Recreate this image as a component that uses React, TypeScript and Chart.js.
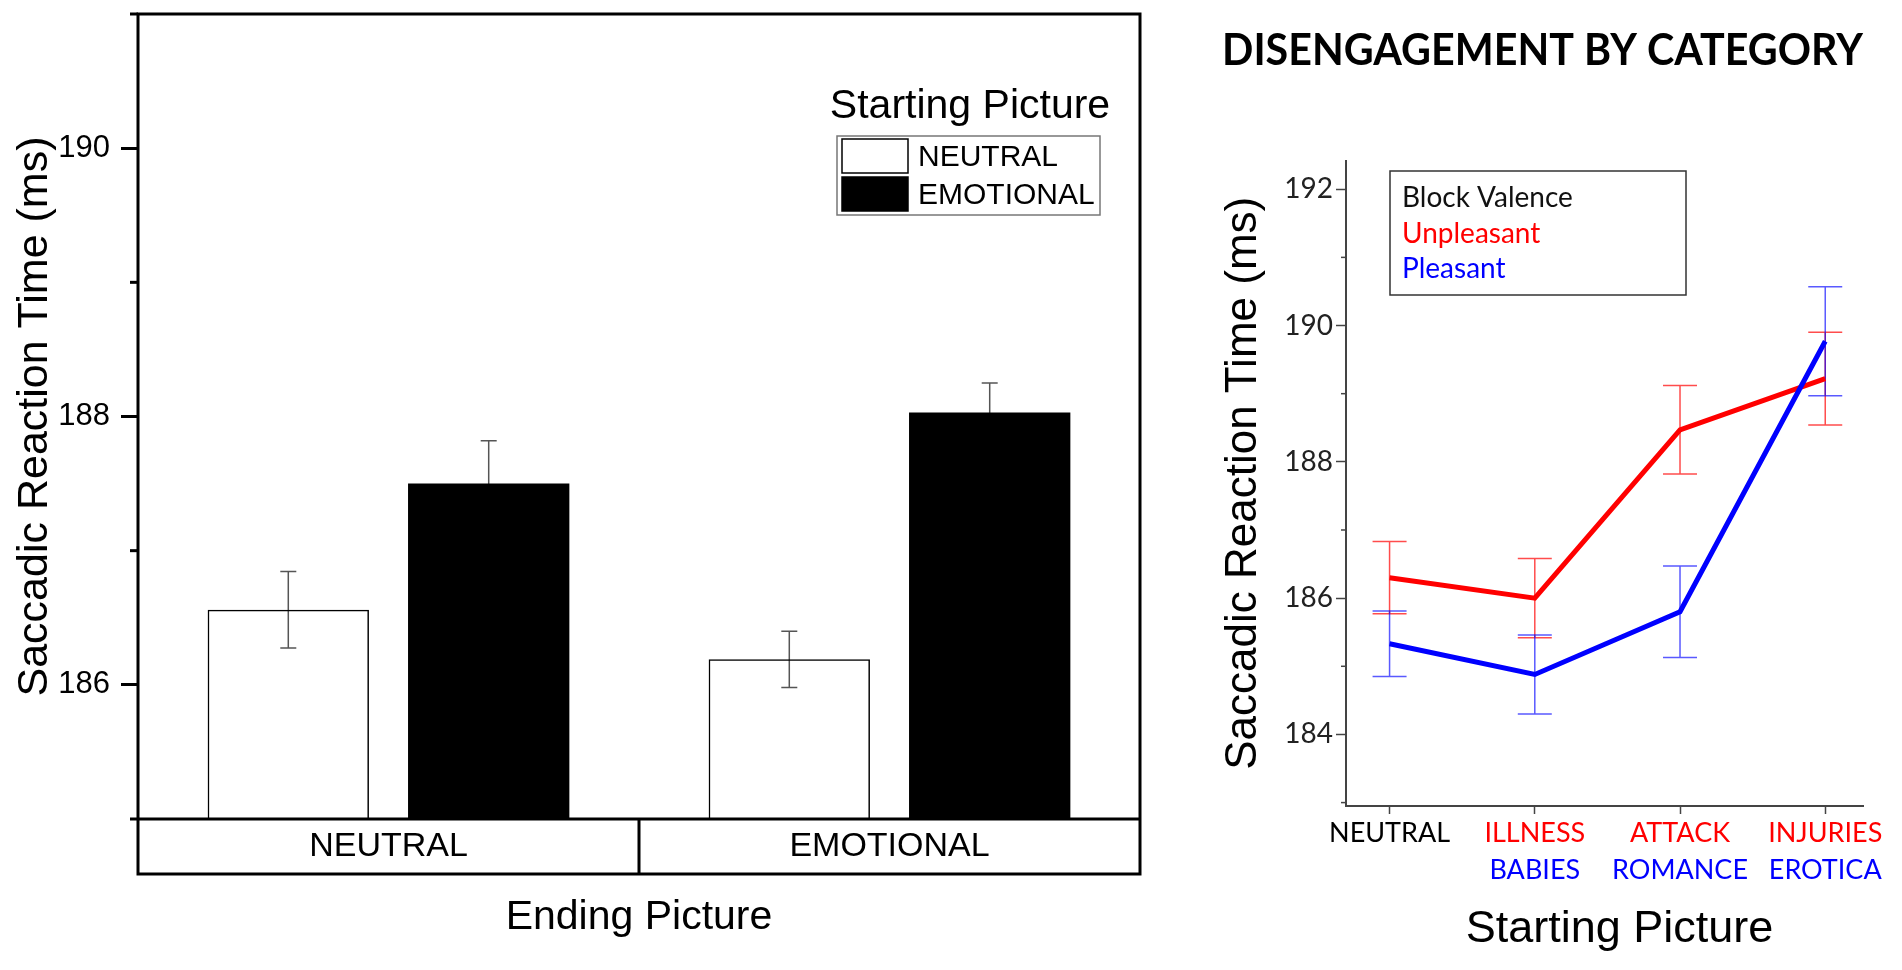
import { useEffect, useRef } from "react";
import { Chart, registerables } from "chart.js";

Chart.register(...registerables);
Chart.defaults.font.family = "'Liberation Sans', Arial, sans-serif";
Chart.defaults.color = "#000";

// left panel: ending picture x starting picture
const endingCategories = ["NEUTRAL", "EMOTIONAL"];
const neutralStartRT = [186.56, 186.19];
const neutralStartErr = [0.285, 0.21];
const emotionalStartRT = [187.5, 188.03];
const emotionalStartErr = [0.32, 0.22];
const barAxisTicks = [185, 186, 187, 188, 189, 190, 191];
const barMinorTicks = [185, 187, 189, 191];

// right panel: disengagement by category
const startingPositions = [0, 1, 2, 3];
const startingTopLabels = ["NEUTRAL", "ILLNESS", "ATTACK", "INJURIES"];
const startingBottomLabels = ["", "BABIES", "ROMANCE", "EROTICA"];
const unpleasantRT = [186.3, 186.0, 188.47, 189.22];
const unpleasantErr = [0.53, 0.58, 0.65, 0.68];
const pleasantRT = [185.33, 184.88, 185.8, 189.77];
const pleasantErr = [0.48, 0.58, 0.67, 0.8];
const lineAxisTicks = [183, 184, 185, 186, 187, 188, 189, 190, 191, 192];
const lineMinorTicks = [183, 185, 187, 189, 191];

const ARIAL = "'Liberation Sans', Arial, sans-serif";
const CALIBRI = "Lato, 'Open Sans', sans-serif";

const valueOf = (d: any) => (typeof d === "number" ? d : d.y);

const errorBarPlugin = {
  id: "errorBars",
  beforeDatasetsDraw(chart: any, _args: any, opts: any) {
    const { ctx } = chart;
    chart.data.datasets.forEach((ds: any, di: number) => {
      if (!ds.errors) return;
      const meta = chart.getDatasetMeta(di);
      const y = chart.scales[meta.yAxisID];
      ctx.save();
      ctx.strokeStyle = ds.errorColor;
      ctx.lineWidth = opts.lineWidth;
      meta.data.forEach((el: any, i: number) => {
        const v = valueOf(ds.data[i]);
        const top = y.getPixelForValue(v + ds.errors[i]);
        const bot = y.getPixelForValue(v - ds.errors[i]);
        ctx.beginPath();
        ctx.moveTo(el.x, top);
        ctx.lineTo(el.x, bot);
        ctx.moveTo(el.x - opts.capHalf, top);
        ctx.lineTo(el.x + opts.capHalf, top);
        ctx.moveTo(el.x - opts.capHalf, bot);
        ctx.lineTo(el.x + opts.capHalf, bot);
        ctx.stroke();
      });
      ctx.restore();
    });
  },
};

const minorTicksPlugin = {
  id: "minorTicks",
  afterDraw(chart: any, _args: any, opts: any) {
    const { ctx, chartArea } = chart;
    const y = chart.scales.y;
    ctx.save();
    ctx.strokeStyle = opts.color;
    ctx.lineWidth = opts.width;
    opts.values.forEach((v: number) => {
      const py = y.getPixelForValue(v);
      ctx.beginPath();
      ctx.moveTo(chartArea.left - opts.length, py);
      ctx.lineTo(chartArea.left, py);
      ctx.stroke();
    });
    ctx.restore();
  },
};

const categoryFramePlugin = {
  id: "categoryFrame",
  afterDraw(chart: any, _args: any, opts: any) {
    const { ctx, chartArea } = chart;
    const x = chart.scales.x;
    const boxBottom = chartArea.bottom + opts.depth;
    ctx.save();
    ctx.strokeStyle = "#000";
    ctx.lineWidth = 3;
    ctx.strokeRect(chartArea.left, chartArea.top, chartArea.right - chartArea.left, boxBottom - chartArea.top);
    ctx.beginPath();
    ctx.moveTo(chartArea.left, chartArea.bottom);
    ctx.lineTo(chartArea.right, chartArea.bottom);
    for (let i = 0; i < x.ticks.length - 1; i++) {
      const px = x.getPixelForValue(i + 0.5);
      ctx.moveTo(px, chartArea.bottom);
      ctx.lineTo(px, boxBottom);
    }
    ctx.stroke();
    ctx.restore();
  },
};

// x caption of the right panel sits a little right of the plot centre
const axisCaptionPlugin = {
  id: "axisCaption",
  afterDraw(chart: any, _args: any, opts: any) {
    const { ctx, chartArea } = chart;
    ctx.save();
    ctx.fillStyle = "#000";
    ctx.font = `${opts.size}px ${ARIAL}`;
    ctx.textAlign = "center";
    ctx.textBaseline = "middle";
    ctx.fillText(opts.text, (chartArea.left + chartArea.right) / 2 + opts.dx, opts.y);
    ctx.restore();
  },
};

const startingLegendPlugin = {
  id: "startingLegend",
  afterDraw(chart: any) {
    const { ctx } = chart;
    ctx.save();
    ctx.fillStyle = "#000";
    ctx.font = `41px ${ARIAL}`;
    ctx.textAlign = "center";
    ctx.textBaseline = "alphabetic";
    ctx.fillText("Starting Picture", 970, 118);
    ctx.strokeStyle = "#777";
    ctx.lineWidth = 1.5;
    ctx.strokeRect(837, 136, 263, 79);
    ctx.font = `30px ${ARIAL}`;
    ctx.textAlign = "left";
    ctx.textBaseline = "middle";
    chart.data.datasets.forEach((ds: any, i: number) => {
      const top = 139 + i * 38;
      ctx.fillStyle = ds.swatch;
      ctx.fillRect(842, top, 66, 34);
      ctx.strokeStyle = "#000";
      ctx.lineWidth = 1.5;
      ctx.strokeRect(842, top, 66, 34);
      ctx.fillStyle = "#000";
      ctx.fillText(ds.label, 918, top + 19);
    });
    ctx.restore();
  },
};

const valenceLegendPlugin = {
  id: "valenceLegend",
  afterDraw(chart: any) {
    const { ctx } = chart;
    ctx.save();
    ctx.strokeStyle = "#333";
    ctx.lineWidth = 1.5;
    ctx.strokeRect(168, 171, 296, 124);
    ctx.font = `28px ${CALIBRI}`;
    ctx.textAlign = "left";
    ctx.textBaseline = "alphabetic";
    ctx.fillStyle = "#111";
    ctx.fillText("Block Valence", 180, 207);
    chart.data.datasets.forEach((ds: any, i: number) => {
      ctx.fillStyle = ds.borderColor;
      ctx.fillText(ds.label, 180, 243 + i * 35);
    });
    ctx.restore();
  },
};

function EndingPictureChart() {
  const chartRef = useRef<HTMLCanvasElement>(null);

  useEffect(() => {
    if (!chartRef.current) return;
    const chart = new Chart(chartRef.current, {
      type: "bar",
      data: {
        labels: endingCategories,
        datasets: [
          {
            label: "NEUTRAL",
            data: neutralStartRT,
            errors: neutralStartErr,
            errorColor: "#555",
            swatch: "#fff",
            backgroundColor: "rgba(255,255,255,0)",
            borderColor: "#000",
            borderWidth: 1.5,
            base: 185,
            categoryPercentage: 0.8,
            barPercentage: 0.805,
          },
          {
            label: "EMOTIONAL",
            data: emotionalStartRT,
            errors: emotionalStartErr,
            errorColor: "#555",
            swatch: "#000",
            backgroundColor: "#000",
            borderColor: "#000",
            borderWidth: 0,
            base: 185,
            categoryPercentage: 0.8,
            barPercentage: 0.805,
          },
        ] as any,
      },
      options: {
        responsive: false,
        animation: false,
        events: [],
        layout: { padding: { top: 14, right: 50, left: 0, bottom: 0 } },
        plugins: {
          legend: { display: false },
          tooltip: { enabled: false },
          errorBars: { lineWidth: 1.5, capHalf: 8 },
          minorTicks: { values: barMinorTicks, length: 8, width: 3, color: "#000" },
          categoryFrame: { depth: 55 },
        } as any,
        scales: {
          x: {
            type: "category",
            offset: true,
            grid: { display: false, drawTicks: false },
            border: { display: false },
            ticks: { color: "#000", font: { family: ARIAL, size: 34 }, padding: 7 },
            title: {
              display: true,
              text: "Ending Picture",
              color: "#000",
              font: { family: ARIAL, size: 41 },
              padding: { top: 0, bottom: 28 },
            },
            afterFit: (s: any) => {
              s.height = 151;
              s.paddingLeft = 0;
              s.paddingRight = 0;
            },
          },
          y: {
            min: 185,
            max: 191,
            afterBuildTicks: (s: any) => {
              s.ticks = barAxisTicks.map((v) => ({ value: v }));
            },
            grid: {
              drawOnChartArea: false,
              drawTicks: true,
              tickLength: 17,
              tickWidth: 3,
              tickColor: (c: any) => (c.tick && c.tick.value % 2 === 0 ? "#000" : "rgba(0,0,0,0)"),
            },
            border: { display: false },
            ticks: {
              padding: 11,
              color: "#000",
              font: { family: ARIAL, size: 31 },
              callback: (v: any) => (Number(v) % 2 === 0 ? String(v) : ""),
            },
            title: {
              display: true,
              text: "Saccadic Reaction Time (ms)",
              color: "#000",
              font: { family: ARIAL, size: 43 },
              padding: { top: 9, bottom: 0 },
            },
            afterFit: (s: any) => {
              s.width = 138;
              s.paddingTop = 0;
              s.paddingBottom = 0;
            },
          },
        },
      },
      plugins: [errorBarPlugin, minorTicksPlugin, categoryFramePlugin, startingLegendPlugin],
    } as any);

    return () => {
      chart.destroy();
    };
  }, []);

  return (
    <canvas
      ref={chartRef}
      width={1190}
      height={970}
      style={{ position: "absolute", left: 0, top: 0, width: 1190, height: 970 }}
    />
  );
}

function StartingCategoryChart() {
  const chartRef = useRef<HTMLCanvasElement>(null);

  useEffect(() => {
    if (!chartRef.current) return;
    const labelAt = (list: string[]) => (v: any) => {
      const i = startingPositions.indexOf(Number(v));
      return i >= 0 ? list[i] : "";
    };
    const xTicks = (s: any) => {
      s.ticks = startingPositions.map((v) => ({ value: v }));
    };

    const chart = new Chart(chartRef.current, {
      type: "line",
      data: {
        datasets: [
          {
            label: "Unpleasant",
            data: startingPositions.map((x, i) => ({ x, y: unpleasantRT[i] })),
            errors: unpleasantErr,
            errorColor: "rgba(255,0,0,0.7)",
            borderColor: "#ff0000",
            borderWidth: 5,
            pointRadius: 0,
            tension: 0,
            order: 1,
          },
          {
            label: "Pleasant",
            data: startingPositions.map((x, i) => ({ x, y: pleasantRT[i] })),
            errors: pleasantErr,
            errorColor: "rgba(0,0,255,0.65)",
            borderColor: "#0000ff",
            borderWidth: 5,
            pointRadius: 0,
            tension: 0,
            order: 0,
          },
        ] as any,
      },
      options: {
        responsive: false,
        animation: false,
        events: [],
        layout: { padding: { top: 0, right: 39, left: 0, bottom: 0 } },
        plugins: {
          legend: { display: false },
          tooltip: { enabled: false },
          title: {
            display: true,
            text: "DISENGAGEMENT BY CATEGORY",
            align: "start",
            color: "#000",
            font: { family: CALIBRI, weight: "bold", size: 43 },
            padding: { top: 25, bottom: 84 },
          },
          errorBars: { lineWidth: 1.5, capHalf: 17 },
          minorTicks: { values: lineMinorTicks, length: 5, width: 1.5, color: "#444" },
          axisCaption: { text: "Starting Picture", size: 45, dx: 15, y: 930 },
        } as any,
        scales: {
          x: {
            type: "linear",
            position: "bottom",
            weight: 0,
            min: -0.3,
            max: 3.26,
            afterBuildTicks: xTicks,
            ticks: {
              autoSkip: false,
              maxRotation: 0,
              padding: 3,
              font: { family: CALIBRI, size: 27 },
              color: (c: any) => (c.index === 0 ? "#000" : "#ff0000"),
              callback: labelAt(startingTopLabels),
            },
            grid: { drawOnChartArea: false, tickLength: 8, tickWidth: 1.5, tickColor: "#444" },
            border: { color: "#444", width: 2 },
            afterFit: (s: any) => {
              s.height = 36;
              s.paddingLeft = 0;
              s.paddingRight = 0;
            },
          },
          x2: {
            type: "linear",
            position: "bottom",
            weight: 1,
            min: -0.3,
            max: 3.26,
            afterBuildTicks: xTicks,
            ticks: {
              autoSkip: false,
              maxRotation: 0,
              padding: 12,
              font: { family: CALIBRI, size: 27 },
              color: "#0000ff",
              callback: labelAt(startingBottomLabels),
            },
            grid: { display: false, drawTicks: false },
            border: { display: false },
            afterFit: (s: any) => {
              s.height = 128;
              s.paddingLeft = 0;
              s.paddingRight = 0;
            },
          },
          y: {
            min: 182.95,
            max: 192.42,
            afterBuildTicks: (s: any) => {
              s.ticks = lineAxisTicks.map((v) => ({ value: v }));
            },
            ticks: {
              padding: 3,
              color: "#222",
              font: { family: CALIBRI, size: 28 },
              callback: (v: any) => (Number(v) % 2 === 0 ? String(v) : ""),
            },
            grid: {
              drawOnChartArea: false,
              tickLength: 10,
              tickWidth: 1.5,
              tickColor: (c: any) => (c.tick && c.tick.value % 2 === 0 ? "#444" : "rgba(0,0,0,0)"),
            },
            border: { color: "#444", width: 2 },
            title: {
              display: true,
              text: "Saccadic Reaction Time (ms)",
              color: "#000",
              font: { family: ARIAL, size: 44, lineHeight: 1 },
              padding: { top: 0, bottom: 0 },
            },
            afterFit: (s: any) => {
              s.width = 124;
              s.paddingTop = 0;
              s.paddingBottom = 0;
            },
          },
        },
      },
      plugins: [errorBarPlugin, minorTicksPlugin, valenceLegendPlugin, axisCaptionPlugin],
    } as any);

    return () => {
      chart.destroy();
    };
  }, []);

  return (
    <canvas
      ref={chartRef}
      width={680}
      height={970}
      style={{ position: "absolute", left: 1222, top: 0, width: 680, height: 970 }}
    />
  );
}

export default function App() {
  return (
    <div
      style={{
        position: "fixed",
        left: 0,
        top: 0,
        width: 1902,
        height: 970,
        overflow: "hidden",
        background: "#fff",
      }}
    >
      <EndingPictureChart />
      <StartingCategoryChart />
    </div>
  );
}
